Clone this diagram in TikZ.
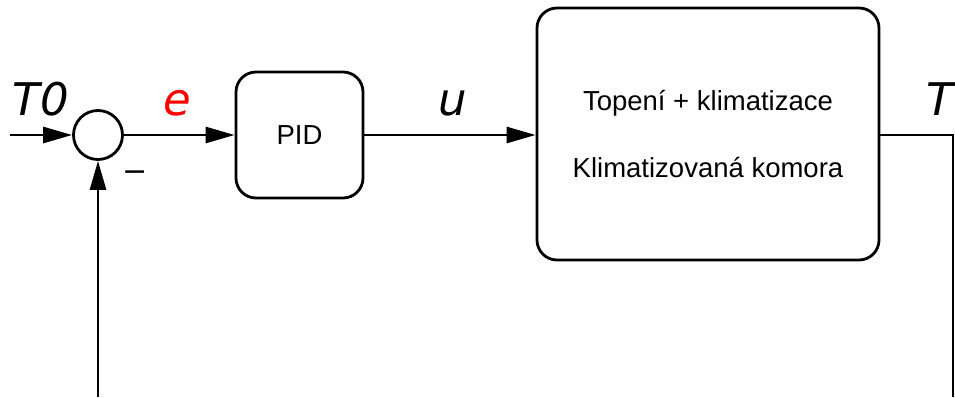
\documentclass[tikz,border=0pt]{standalone}
\usepackage{fontspec}
\setmainfont{Liberation Sans}
\newfontfamily\labelfont{DejaVu Sans Oblique}
\newfontfamily\signfont{DejaVu Sans}
\usetikzlibrary{arrows.meta}
\begin{document}
\begin{tikzpicture}[x=1pt,y=-1pt,
  wire/.style={line width=2.8pt,black},
  flow/.style={wire,-{Triangle[length=29pt,width=16pt]}},
  block/.style={draw,line width=2.8pt,rounded corners=20pt,inner sep=0pt,
    font=\fontsize{27.5}{67}\selectfont,align=center},
  signal/.style={font=\fontsize{45}{54}\labelfont,anchor=base,inner sep=0pt}]
  \useasboundingbox (0,0) rectangle (955,397);

  % summing junction
  \node[draw,circle,line width=2.8pt,minimum size=49pt,inner sep=0pt] (sum) at (98,135) {};
  \node[font=\fontsize{30}{36}\signfont,inner sep=0pt] (minus) at (135,176) {−};

  % controller and plant
  \node[block,minimum width=127pt,minimum height=126pt] (pid) at (299.5,135) {PID};
  \node[block,minimum width=342pt,minimum height=252pt] (plant) at (708,134)
    {Topení + klimatizace\\Klimatizovaná komora};

  % free ends of the loop
  \coordinate (ref) at (10,135);
  \coordinate (outtop) at (953,135);
  \coordinate (outbot) at (953,397);
  \coordinate (fbbot) at (98,397);

  % connectors
  \draw[flow] (ref) -- (sum.west);
  \draw[flow] (sum.east) -- (pid.west);
  \draw[flow] (pid.east) -- (plant.west |- pid.east);
  \draw[wire] (plant.east |- outtop) -- (outtop) -- (outbot);
  \draw[flow] (fbbot) -- (sum.south);

  % signal names
  \node[signal] (t0) at (41,115) {T0};
  \node[signal,red] (err) at (177,115) {e};
  \node[signal] (ctl) at (453,115) {u};
  \node[signal,anchor=base east] (tout) at (954,115) {T};
\end{tikzpicture}
\end{document}
